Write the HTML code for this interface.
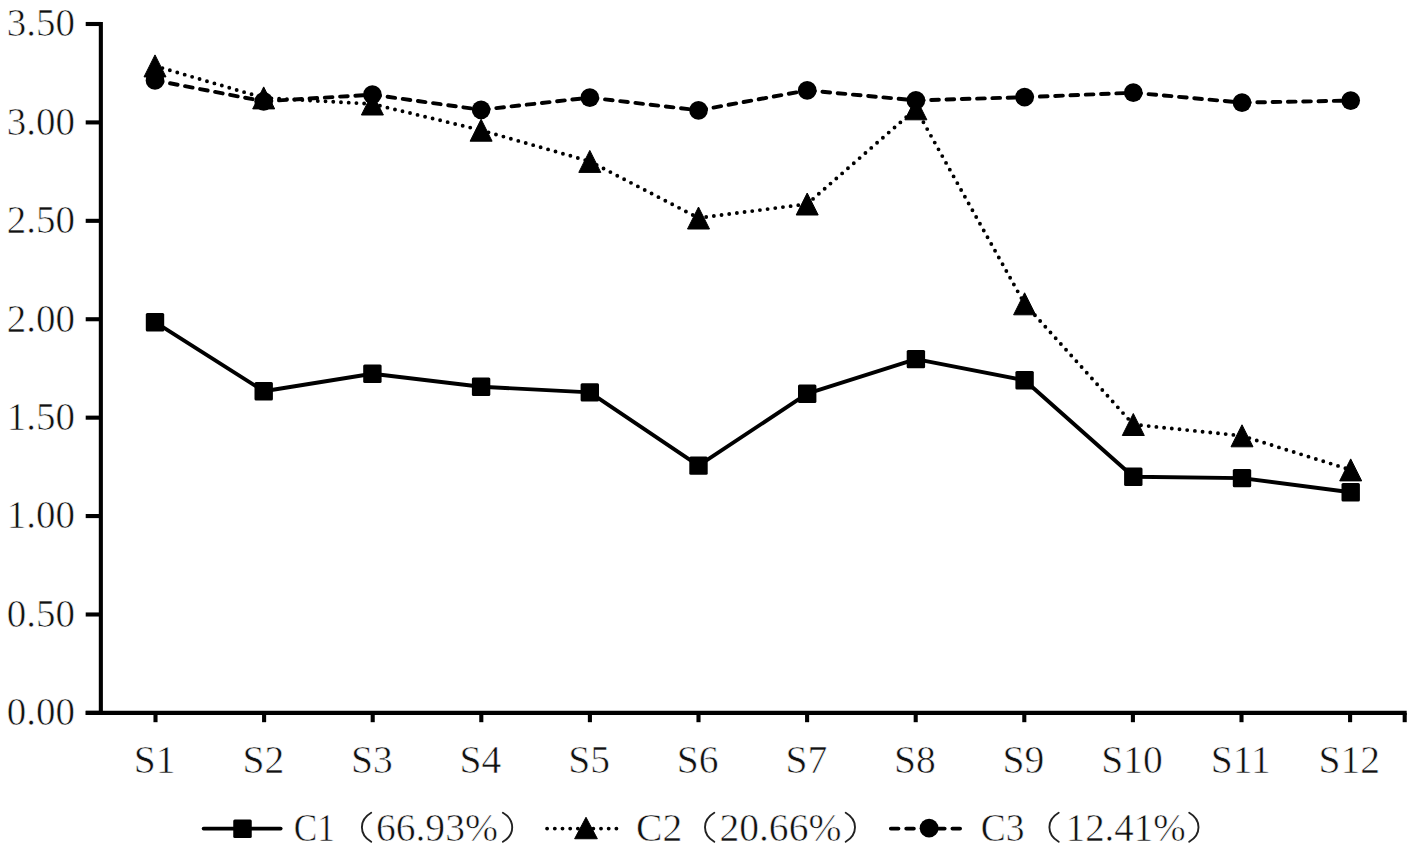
<!DOCTYPE html><html><head><meta charset="utf-8"><style>html,body{margin:0;padding:0;background:#fff;overflow:hidden}svg{display:block}text{font-family:"Liberation Serif",serif;fill:#111;stroke:#fff;stroke-width:0.6px}</style></head><body>
<svg width="1417" height="851" viewBox="0 0 1417 851">
<rect width="1417" height="851" fill="#fff"/>
<g stroke="#000" stroke-width="4.1" fill="none" stroke-linecap="butt">
<line x1="100.85" y1="22.1" x2="100.85" y2="714.8"/>
<line x1="85.7" y1="712.9" x2="1406.7" y2="712.9"/>
<line x1="85.7" y1="24.00" x2="100.85" y2="24.00"/>
<line x1="85.7" y1="122.41" x2="100.85" y2="122.41"/>
<line x1="85.7" y1="220.83" x2="100.85" y2="220.83"/>
<line x1="85.7" y1="319.24" x2="100.85" y2="319.24"/>
<line x1="85.7" y1="417.66" x2="100.85" y2="417.66"/>
<line x1="85.7" y1="516.07" x2="100.85" y2="516.07"/>
<line x1="85.7" y1="614.49" x2="100.85" y2="614.49"/>
<line x1="85.7" y1="712.90" x2="100.85" y2="712.90"/>
<line x1="155.50" y1="712.9" x2="155.50" y2="722.2"/>
<line x1="264.10" y1="712.9" x2="264.10" y2="722.2"/>
<line x1="372.70" y1="712.9" x2="372.70" y2="722.2"/>
<line x1="481.30" y1="712.9" x2="481.30" y2="722.2"/>
<line x1="589.90" y1="712.9" x2="589.90" y2="722.2"/>
<line x1="698.50" y1="712.9" x2="698.50" y2="722.2"/>
<line x1="807.10" y1="712.9" x2="807.10" y2="722.2"/>
<line x1="915.70" y1="712.9" x2="915.70" y2="722.2"/>
<line x1="1024.30" y1="712.9" x2="1024.30" y2="722.2"/>
<line x1="1132.90" y1="712.9" x2="1132.90" y2="722.2"/>
<line x1="1241.50" y1="712.9" x2="1241.50" y2="722.2"/>
<line x1="1350.10" y1="712.9" x2="1350.10" y2="722.2"/>
<line x1="1404.70" y1="712.9" x2="1404.70" y2="722.2"/>
</g>
<g font-size="39.6" text-anchor="end">
<text x="75.0" y="36.40" textLength="68.2" lengthAdjust="spacingAndGlyphs">3.50</text>
<text x="75.0" y="134.81" textLength="68.2" lengthAdjust="spacingAndGlyphs">3.00</text>
<text x="75.0" y="233.23" textLength="68.2" lengthAdjust="spacingAndGlyphs">2.50</text>
<text x="75.0" y="331.64" textLength="68.2" lengthAdjust="spacingAndGlyphs">2.00</text>
<text x="75.0" y="430.06" textLength="68.2" lengthAdjust="spacingAndGlyphs">1.50</text>
<text x="75.0" y="528.47" textLength="68.2" lengthAdjust="spacingAndGlyphs">1.00</text>
<text x="75.0" y="626.89" textLength="68.2" lengthAdjust="spacingAndGlyphs">0.50</text>
<text x="75.0" y="725.30" textLength="68.2" lengthAdjust="spacingAndGlyphs">0.00</text>
</g>
<g font-size="39.6" text-anchor="middle">
<text x="154.70" y="772.8">S1</text>
<text x="263.30" y="772.8">S2</text>
<text x="371.90" y="772.8">S3</text>
<text x="480.50" y="772.8">S4</text>
<text x="589.10" y="772.8">S5</text>
<text x="697.70" y="772.8">S6</text>
<text x="806.30" y="772.8">S7</text>
<text x="914.90" y="772.8">S8</text>
<text x="1023.50" y="772.8">S9</text>
<text x="1132.10" y="772.8">S10</text>
<text x="1240.70" y="772.8">S11</text>
<text x="1349.30" y="772.8">S12</text>
</g>
<polyline points="155.00,322.20 263.70,391.20 372.40,373.80 481.10,386.70 589.80,392.40 698.50,465.60 807.20,393.70 915.90,359.10 1024.60,380.20 1133.30,476.70 1242.00,478.10 1350.70,492.20" fill="none" stroke="#000" stroke-width="3.9" stroke-linejoin="round"/>
<g fill="none" stroke="#000" stroke-width="3.9" stroke-linecap="round" stroke-dasharray="0 7.74"><line x1="155.00" y1="65.90" x2="263.70" y2="97.90"/><line x1="263.70" y1="97.90" x2="372.40" y2="104.00"/><line x1="372.40" y1="104.00" x2="481.10" y2="130.20"/><line x1="481.10" y1="130.20" x2="589.80" y2="161.40"/><line x1="589.80" y1="161.40" x2="698.50" y2="218.00"/><line x1="698.50" y1="218.00" x2="807.20" y2="204.00"/><line x1="807.20" y1="204.00" x2="915.90" y2="108.80"/><line x1="915.90" y1="108.80" x2="1024.60" y2="303.80"/><line x1="1024.60" y1="303.80" x2="1133.30" y2="424.50"/><line x1="1133.30" y1="424.50" x2="1242.00" y2="435.80"/><line x1="1242.00" y1="435.80" x2="1350.70" y2="469.90"/></g>
<g fill="none" stroke="#000" stroke-width="3.9" stroke-linecap="round" stroke-dasharray="7.7 7.6"><line x1="155.00" y1="80.40" x2="263.70" y2="101.30"/><line x1="263.70" y1="101.30" x2="372.40" y2="94.70"/><line x1="372.40" y1="94.70" x2="481.10" y2="109.80"/><line x1="481.10" y1="109.80" x2="589.80" y2="97.60"/><line x1="589.80" y1="97.60" x2="698.50" y2="110.30"/><line x1="698.50" y1="110.30" x2="807.20" y2="90.40"/><line x1="807.20" y1="90.40" x2="915.90" y2="100.40"/><line x1="915.90" y1="100.40" x2="1024.60" y2="97.20"/><line x1="1024.60" y1="97.20" x2="1133.30" y2="92.70"/><line x1="1133.30" y1="92.70" x2="1242.00" y2="102.60"/><line x1="1242.00" y1="102.60" x2="1350.70" y2="100.60"/></g>
<g fill="#000">
<rect x="145.80" y="313.00" width="18.4" height="18.4" rx="1.5"/>
<rect x="254.50" y="382.00" width="18.4" height="18.4" rx="1.5"/>
<rect x="363.20" y="364.60" width="18.4" height="18.4" rx="1.5"/>
<rect x="471.90" y="377.50" width="18.4" height="18.4" rx="1.5"/>
<rect x="580.60" y="383.20" width="18.4" height="18.4" rx="1.5"/>
<rect x="689.30" y="456.40" width="18.4" height="18.4" rx="1.5"/>
<rect x="798.00" y="384.50" width="18.4" height="18.4" rx="1.5"/>
<rect x="906.70" y="349.90" width="18.4" height="18.4" rx="1.5"/>
<rect x="1015.40" y="371.00" width="18.4" height="18.4" rx="1.5"/>
<rect x="1124.10" y="467.50" width="18.4" height="18.4" rx="1.5"/>
<rect x="1232.80" y="468.90" width="18.4" height="18.4" rx="1.5"/>
<rect x="1341.50" y="483.00" width="18.4" height="18.4" rx="1.5"/>
<circle cx="155.00" cy="80.40" r="9.35"/>
<circle cx="263.70" cy="101.30" r="9.35"/>
<circle cx="372.40" cy="94.70" r="9.35"/>
<circle cx="481.10" cy="109.80" r="9.35"/>
<circle cx="589.80" cy="97.60" r="9.35"/>
<circle cx="698.50" cy="110.30" r="9.35"/>
<circle cx="807.20" cy="90.40" r="9.35"/>
<circle cx="915.90" cy="100.40" r="9.35"/>
<circle cx="1024.60" cy="97.20" r="9.35"/>
<circle cx="1133.30" cy="92.70" r="9.35"/>
<circle cx="1242.00" cy="102.60" r="9.35"/>
<circle cx="1350.70" cy="100.60" r="9.35"/>
<path d="M155.00,54.90 L166.00,76.90 L144.00,76.90Z" stroke="#000" stroke-width="1" stroke-linejoin="round"/>
<path d="M263.70,86.90 L274.70,108.90 L252.70,108.90Z" stroke="#000" stroke-width="1" stroke-linejoin="round"/>
<path d="M372.40,93.00 L383.40,115.00 L361.40,115.00Z" stroke="#000" stroke-width="1" stroke-linejoin="round"/>
<path d="M481.10,119.20 L492.10,141.20 L470.10,141.20Z" stroke="#000" stroke-width="1" stroke-linejoin="round"/>
<path d="M589.80,150.40 L600.80,172.40 L578.80,172.40Z" stroke="#000" stroke-width="1" stroke-linejoin="round"/>
<path d="M698.50,207.00 L709.50,229.00 L687.50,229.00Z" stroke="#000" stroke-width="1" stroke-linejoin="round"/>
<path d="M807.20,193.00 L818.20,215.00 L796.20,215.00Z" stroke="#000" stroke-width="1" stroke-linejoin="round"/>
<path d="M915.90,97.80 L926.90,119.80 L904.90,119.80Z" stroke="#000" stroke-width="1" stroke-linejoin="round"/>
<path d="M1024.60,292.80 L1035.60,314.80 L1013.60,314.80Z" stroke="#000" stroke-width="1" stroke-linejoin="round"/>
<path d="M1133.30,413.50 L1144.30,435.50 L1122.30,435.50Z" stroke="#000" stroke-width="1" stroke-linejoin="round"/>
<path d="M1242.00,424.80 L1253.00,446.80 L1231.00,446.80Z" stroke="#000" stroke-width="1" stroke-linejoin="round"/>
<path d="M1350.70,458.90 L1361.70,480.90 L1339.70,480.90Z" stroke="#000" stroke-width="1" stroke-linejoin="round"/>
</g>
<g stroke="#000" fill="none">
<line x1="203.6" y1="828.6" x2="280.7" y2="828.6" stroke-width="3.7" stroke-linecap="round"/>
<line x1="547.1" y1="828.6" x2="618" y2="828.6" stroke-width="3.9" stroke-linecap="round" stroke-dasharray="0 7.7"/>
<line x1="890.85" y1="828.6" x2="962" y2="828.6" stroke-width="3.9" stroke-linecap="round" stroke-dasharray="7.6 7.8"/>
</g>
<g fill="#000">
<rect x="233.25" y="819.45" width="18.5" height="18.5" rx="1.5"/>
<path d="M586.00,817.25 L597.35,838.75 L574.65,838.75Z" stroke="#000" stroke-width="1" stroke-linejoin="round"/>
<circle cx="929.10" cy="828.20" r="9.4"/>
</g>
<g font-size="39.6">
<text x="293.7" y="841.3" textLength="41.2" lengthAdjust="spacingAndGlyphs">C1</text>
<text x="636.1" y="841.3">C2</text>
<text x="980.7" y="841.3" textLength="43.8" lengthAdjust="spacingAndGlyphs">C3</text>
<text x="375.9" y="841.3">66.93%</text>
<text x="719.4" y="841.3">20.66%</text>
<text x="1065.7" y="841.3" textLength="120.0" lengthAdjust="spacingAndGlyphs">12.41%</text>
</g>
<g fill="none" stroke="#222" stroke-width="1.9" stroke-linecap="round">
<path d="M371.2,812.8 C358.8,820.0 358.8,834.5 371.2,841.8"/>
<path d="M714.3,812.8 C701.9,820.0 701.9,834.5 714.3,841.8"/>
<path d="M1058.7,812.8 C1046.3,820.0 1046.3,834.5 1058.7,841.8"/>
<path d="M502.9,812.8 C515.3,820.0 515.3,834.5 502.9,841.8"/>
<path d="M845.7,812.8 C858.1,820.0 858.1,834.5 845.7,841.8"/>
<path d="M1189.2,812.8 C1201.6,820.0 1201.6,834.5 1189.2,841.8"/>
</g>
</svg></body></html>
